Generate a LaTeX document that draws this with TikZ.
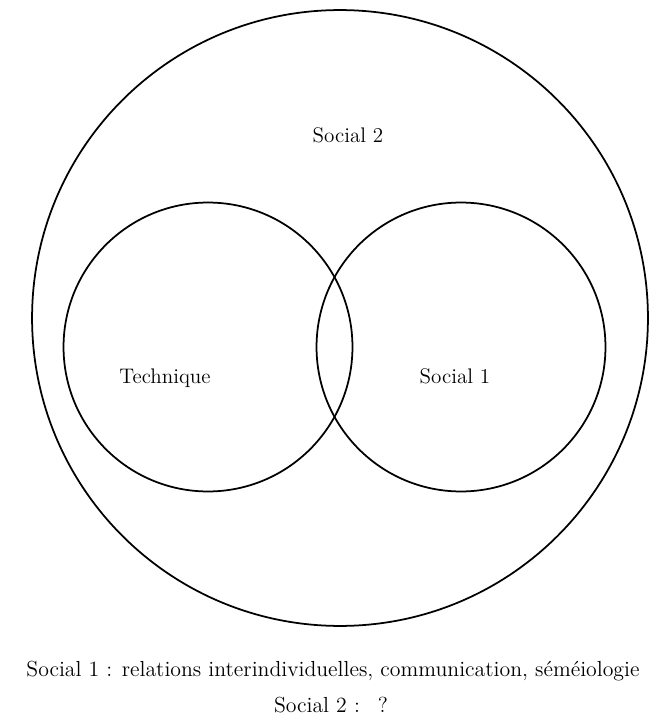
\documentclass[tikz,border=0pt]{standalone}
\usetikzlibrary{positioning}

\begin{document}
\begin{tikzpicture}[
        x                  = 0.02cm,
        y                  = -0.02cm,
        zone/.style        = {circle, draw, line width=1pt, minimum size=#1, inner sep=0pt},
        lbl/.style         = {font=\fontsize{12}{14}\selectfont},
        caption/.style     = {font=\fontsize{12.4}{15}\selectfont},
      ]
        \useasboundingbox (0,0) rectangle (652,719);
        % circles
        \node[zone=12.32cm] (social2) at (340,318) {};
        \node[zone=5.78cm] (technique) at (208,347) {};
        \node[zone=5.78cm] (social1) at (461,347) {};
        % labels
        \node[lbl] (social2 text) at (348,135) {Social 2};
        \node[lbl] (technique text) at (165,378) {Technique};
        \node[lbl] (social1 text) at (455,376) {Social 1};
        % legend
        \node[caption] (legend1) at (333,671) {Social 1 : relations interindividuelles, communication, séméiologie};
        \node[caption] (legend2) at (331,705) {Social 2 :\enspace\ ?};
    \end{tikzpicture}
\end{document}
